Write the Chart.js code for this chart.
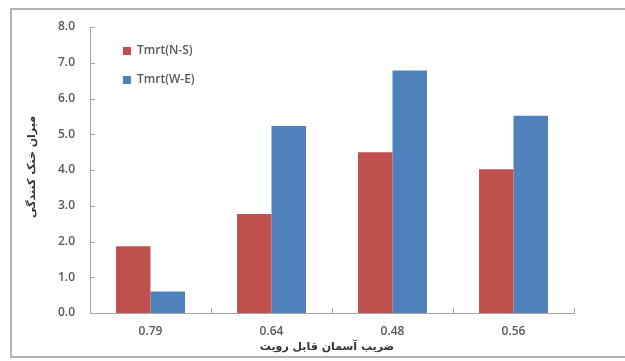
<!DOCTYPE html>
<html><head><meta charset="utf-8">
<script src="https://cdn.jsdelivr.net/npm/chart.js@4.4.0/dist/chart.umd.min.js"></script>
<style>html,body{margin:0;padding:0;background:#fff;}#wrap{width:625px;height:361px;}</style>
</head><body><div id="wrap"><canvas id="c" width="625" height="361"></canvas></div>
<script>
const categories = ['0.79', '0.64', '0.48', '0.56'];
const seriesNS = [1.87, 2.77, 4.5, 4.02];
const seriesWE = [0.6, 5.23, 6.78, 5.52];
const seriesNames = ['Tmrt(N-S)', 'Tmrt(W-E)'];
const yTitle = 'میزان خنک کنندگی';
const xTitle = 'ضریب آسمان قابل رویت';

const AXIS = '#a6a6a6', TXT = '#595959';
const FONT = '"Open Sans", "DejaVu Sans", sans-serif';
const decor = {
  id: 'decor',
  beforeDraw(chart) {
    const c = chart.ctx;
    c.save();
    c.strokeStyle = '#b4b4b4'; c.lineWidth = 2;
    c.beginPath();
    c.moveTo(632, 9); c.lineTo(11, 9); c.lineTo(11, 357); c.lineTo(632, 357);
    c.stroke();
    c.restore();
  },
  afterDraw(chart) {
    const c = chart.ctx, a = chart.chartArea;
    const y = chart.scales.y;
    c.save();
    c.strokeStyle = AXIS; c.lineWidth = 1;
    y.ticks.forEach((t, i) => {
      const py = Math.round(y.getPixelForTick(i)) + 0.5;
      c.beginPath(); c.moveTo(a.left, py); c.lineTo(a.left + 5, py); c.stroke();
    });
    for (let i = 0; i <= categories.length; i++) {
      const px = Math.round(a.left + (a.right - a.left) * i / categories.length) + 0.5;
      c.beginPath(); c.moveTo(px, a.bottom); c.lineTo(px, a.bottom - 5); c.stroke();
    }
    const colors = ['#C0504D', '#4F81BD'];
    c.font = '600 12px ' + FONT;
    c.textBaseline = 'middle'; c.textAlign = 'left';
    seriesNames.forEach((n, i) => {
      const ly = 51 + i * 29;
      c.fillStyle = colors[i];
      c.fillRect(123, ly - 4, 8, 8);
      c.fillStyle = TXT;
      c.fillText(n, 137, ly);
    });
    c.fillStyle = '#333';
    c.font = 'bold 11px "DejaVu Sans", sans-serif';
    c.direction = 'rtl';
    c.textAlign = 'center';
    c.fillText(xTitle, 327, 347);
    c.translate(32, 167);
    c.rotate(-Math.PI / 2);
    c.fillText(yTitle, 0, 0);
    c.restore();
  }
};

new Chart(document.getElementById('c'), {
  type: 'bar',
  data: {
    labels: categories,
    datasets: [
      { label: seriesNames[0], data: seriesNS, backgroundColor: '#C0504D', barPercentage: 1, categoryPercentage: 0.57 },
      { label: seriesNames[1], data: seriesWE, backgroundColor: '#4F81BD', barPercentage: 1, categoryPercentage: 0.57 }
    ]
  },
  options: {
    responsive: false, animation: false,
    layout: { padding: { left: 0, top: 27, right: 51, bottom: 0 } },
    plugins: { legend: { display: false }, tooltip: { enabled: false } },
    scales: {
      x: {
        offset: true,
        grid: { display: false, drawTicks: false },
        border: { color: AXIS, width: 1 },
        ticks: { color: TXT, padding: 11, font: { size: 12, weight: '600', family: FONT } },
        afterFit(s) { s.height = 48; }
      },
      y: {
        min: 0, max: 8,
        grid: { display: false, drawTicks: false },
        border: { color: AXIS, width: 1 },
        ticks: { stepSize: 1, color: TXT, padding: 15, font: { size: 12, weight: '600', family: FONT },
          callback: v => Number(v).toFixed(1) },
        afterFit(s) { s.width = 90; }
      }
    }
  },
  plugins: [decor]
});
</script></body></html>
